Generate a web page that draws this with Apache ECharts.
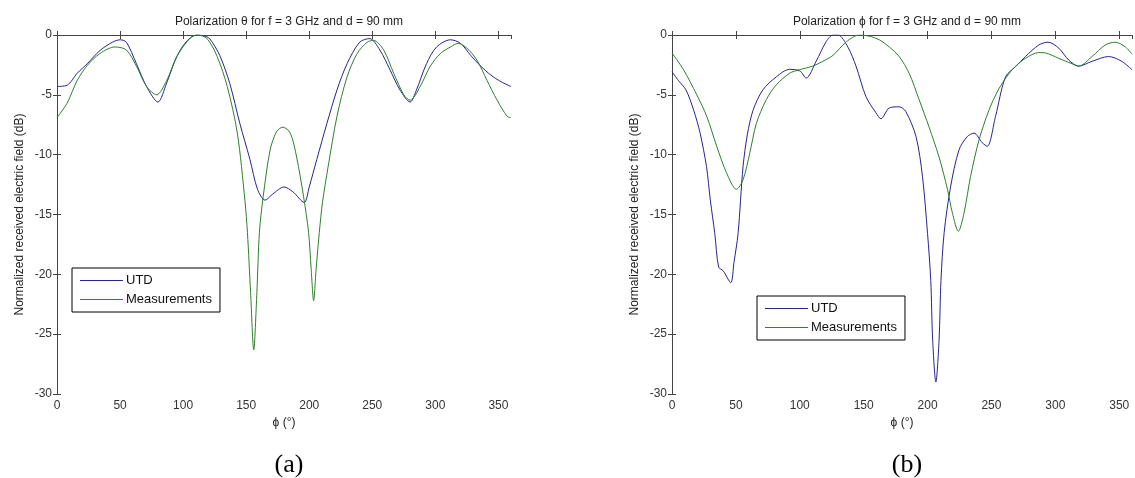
<!DOCTYPE html>
<html>
<head>
<meta charset="utf-8">
<script src="https://cdn.jsdelivr.net/npm/echarts@6/dist/echarts.min.js"></script>
<style>
  html, body { margin: 0; padding: 0; background: #fff; }
  #chart { width: 1135px; height: 478px; }
</style>
</head>
<body>
<div id="chart"></div>
<script>
// (a) polarization theta
const utdA_phi = [0, 8, 16, 24, 34, 44, 50, 55, 63, 71, 80, 87, 95, 103, 111, 116, 121, 129, 137, 145, 153, 159, 165, 171, 180, 187, 196, 200, 206, 214, 222, 230, 240, 248, 256, 264, 272, 280, 285, 293, 301, 312, 320, 328, 336, 344, 352, 360]
const utdA_db = [-4.3, -4.2, -3.2, -2.4, -1.3, -0.6, -0.4, -0.6, -2.4, -4.3, -5.6, -4.0, -1.8, -0.5, 0, -0.05, -0.3, -1.7, -4.05, -7.4, -10.4, -12.9, -13.8, -13.3, -12.7, -13.1, -14.0, -12.7, -10.4, -7.4, -4.6, -2.4, -0.6, -0.3, -1.25, -2.9, -4.6, -5.6, -4.6, -2.4, -1.0, -0.4, -0.7, -1.7, -2.6, -3.35, -3.9, -4.3]
const measA_phi = [0, 8, 16, 24, 34, 46, 55, 63, 71, 79, 87, 95, 106, 111, 119, 127, 135, 143, 149, 151, 153.5, 156, 158.5, 160.5, 163.5, 169, 174, 179, 185, 190, 195.5, 199.5, 201.5, 203.5, 205.5, 208, 210.5, 215, 222, 230, 238, 246, 251, 259, 267, 275, 280, 288, 296, 304, 312, 318, 325, 333, 341, 349, 357, 360]
const measA_db = [-6.9, -5.7, -3.8, -2.55, -1.55, -1.0, -1.25, -2.6, -4.3, -5.0, -3.8, -1.8, -0.2, 0, -0.3, -1.8, -4.3, -8.2, -13.8, -16.5, -21.5, -26.3, -21.5, -16.5, -13.5, -9.6, -8.1, -7.7, -8.2, -10.2, -13.5, -16.5, -19.5, -22.2, -19.5, -16.5, -14, -11, -6.8, -3.5, -1.55, -0.6, -0.45, -1.25, -3.2, -5.0, -5.45, -4.3, -2.6, -1.55, -1.0, -0.7, -1.1, -2.1, -3.8, -5.45, -6.8, -6.9]

// (b) polarization phi
const utdB_phi = [0, 5, 11, 17, 22, 27, 30, 33.5, 36.5, 40, 46, 48.5, 51.7, 55.6, 59, 63.4, 71, 81.6, 92, 100, 105, 112.8, 120.7, 126, 130, 137.6, 144, 151.8, 159.6, 163.5, 170, 177.8, 183, 191, 196, 200, 202.5, 204, 206.5, 209, 210.5, 213, 218, 224.6, 231, 236.3, 242.8, 246.7, 253.2, 261, 268.8, 276.6, 287, 294.3, 302.7, 310.5, 318.3, 328.7, 341.7, 352, 360]
const utdB_db = [-3.07, -3.8, -4.6, -6.3, -8.2, -11, -13.8, -16.6, -19.4, -19.7, -20.7, -19, -16.6, -11, -8.3, -6.3, -4.6, -3.5, -2.87, -3.0, -3.6, -2.2, -0.55, 0, 0, -1.0, -2.6, -5.15, -6.5, -7.0, -6.1, -6.0, -6.4, -8.5, -11.8, -16.6, -20.5, -25.5, -29, -25.5, -20.5, -16.5, -12.7, -9.6, -8.5, -8.2, -9.0, -9.3, -6.8, -3.5, -2.65, -1.8, -0.84, -0.6, -1.1, -2.1, -2.6, -2.2, -1.8, -2.2, -2.9]
const measB_phi = [0, 9, 19.4, 27.2, 35, 42.6, 50.4, 55.6, 60.8, 66, 73.8, 81.6, 92, 99.8, 110.2, 118, 126, 136.5, 146.6, 154.4, 162.2, 170, 177.8, 185.6, 193.4, 201.2, 209, 215.6, 219.5, 224.1, 228.5, 233.7, 240.2, 248, 255.8, 266.2, 276.6, 287, 292.2, 302.7, 313, 318.3, 328.7, 339, 346.9, 354.8, 360]
const measB_db = [-1.5, -2.9, -5, -6.8, -9.3, -11.5, -12.9, -12.1, -9.9, -7.4, -5.4, -4.17, -3.2, -2.9, -2.6, -2.2, -1.7, -0.56, 0, -0.1, -0.4, -1.0, -1.8, -3.2, -5.4, -7.7, -10.2, -12.9, -14.9, -16.4, -14.9, -11.8, -8.8, -6.3, -4.5, -2.9, -1.95, -1.47, -1.5, -1.95, -2.4, -2.6, -1.8, -0.84, -0.6, -1.0, -1.6]

const titles = ['Polarization θ for f = 3 GHz and d = 90 mm', 'Polarization ϕ for f = 3 GHz and d = 90 mm']
const panelLabels = ['(a)', '(b)']
const yName = 'Normalized received electric field (dB)'
const xName = 'ϕ (°)'

const UTD_COLOR = '#25258f'
const MEAS_COLOR = '#2f7f2f'
const AXIS_COLOR = '#444'
const FONT = 'Liberation Sans, Arial, sans-serif'

const pairs = (xs, ys) => xs.map((x, i) => [x, ys[i]])

const grids = [
  { left: 57, top: 35, width: 454, height: 359 },
  { left: 672, top: 35, width: 460, height: 359 },
]

const xAxes = []
const yAxes = []
grids.forEach((g, i) => {
  xAxes.push({
    type: 'value', gridIndex: i, min: 0, max: 360, interval: 50, position: 'bottom',
    name: xName, nameLocation: 'middle', nameGap: 22,
    nameTextStyle: { color: '#222', fontSize: 12, fontFamily: FONT },
    axisLine: { show: true, lineStyle: { color: AXIS_COLOR } },
    axisTick: { inside: true, length: 4, lineStyle: { color: AXIS_COLOR } },
    axisLabel: { color: '#333', fontSize: 12, fontFamily: FONT, margin: 6, showMaxLabel: false },
    splitLine: { show: false },
  })
  xAxes.push({
    type: 'value', gridIndex: i, min: 0, max: 360, interval: 50, position: 'top',
    axisLine: { show: true, lineStyle: { color: AXIS_COLOR } },
    axisTick: { inside: true, length: 4, lineStyle: { color: AXIS_COLOR } },
    axisLabel: { show: false },
    splitLine: { show: false },
  })
  yAxes.push({
    type: 'value', gridIndex: i, min: -30, max: 0, interval: 5, position: 'left',
    name: yName, nameLocation: 'middle', nameGap: 31,
    nameTextStyle: { color: '#222', fontSize: 12, fontFamily: FONT },
    axisLine: { show: true, lineStyle: { color: AXIS_COLOR } },
    axisTick: { inside: true, length: 4, lineStyle: { color: AXIS_COLOR } },
    axisLabel: { color: '#333', fontSize: 12, fontFamily: FONT, margin: 5 },
    splitLine: { show: false },
  })
  yAxes.push({
    type: 'value', gridIndex: i, min: -30, max: 0, interval: 5, position: 'right',
    axisLine: { show: true, lineStyle: { color: AXIS_COLOR } },
    axisTick: { inside: true, length: 4, lineStyle: { color: AXIS_COLOR } },
    axisLabel: { show: false },
    splitLine: { show: false },
  })
})

const lineSeries = (name, data, gi, color) => ({
  name, type: 'line', data, xAxisIndex: gi * 2, yAxisIndex: gi * 2,
  smooth: 0.3, symbol: 'none', lineStyle: { width: 1, color }, itemStyle: { color },
  animation: false,
})

// plain line icons in the legend, like MATLAB
const legendBase = {
  data: ['UTD', 'Measurements'], orient: 'vertical', icon: 'rect',
  backgroundColor: '#fff', borderColor: '#000', borderWidth: 1,
  padding: [6, 8, 6, 8], itemWidth: 43, itemHeight: 1, itemGap: 6,
  textStyle: { color: '#111', fontSize: 13, fontFamily: FONT, padding: [0, 0, 0, -2] },
}

const chart = echarts.init(document.getElementById('chart'))
chart.setOption({
  backgroundColor: '#fff',
  title: [
    { text: titles[0], left: 284, top: 11, textAlign: 'center', textStyle: { fontSize: 12, fontWeight: 'normal', color: '#222', fontFamily: FONT } },
    { text: titles[1], left: 902, top: 11, textAlign: 'center', textStyle: { fontSize: 12, fontWeight: 'normal', color: '#222', fontFamily: FONT } },
    { text: panelLabels[0], left: 284, top: 447, textAlign: 'center', textStyle: { fontSize: 26, fontWeight: 'normal', color: '#000', fontFamily: 'Liberation Serif, DejaVu Serif, serif' } },
    { text: panelLabels[1], left: 902, top: 447, textAlign: 'center', textStyle: { fontSize: 26, fontWeight: 'normal', color: '#000', fontFamily: 'Liberation Serif, DejaVu Serif, serif' } },
  ],
  legend: [
    Object.assign({}, legendBase, { left: 72, top: 268 }),
    Object.assign({}, legendBase, { left: 757, top: 296 }),
  ],
  grid: grids,
  xAxis: xAxes,
  yAxis: yAxes,
  series: [
    lineSeries('UTD', pairs(utdA_phi, utdA_db), 0, UTD_COLOR),
    lineSeries('Measurements', pairs(measA_phi, measA_db), 0, MEAS_COLOR),
    lineSeries('UTD', pairs(utdB_phi, utdB_db), 1, UTD_COLOR),
    lineSeries('Measurements', pairs(measB_phi, measB_db), 1, MEAS_COLOR),
  ],
})
</script>
</body>
</html>
